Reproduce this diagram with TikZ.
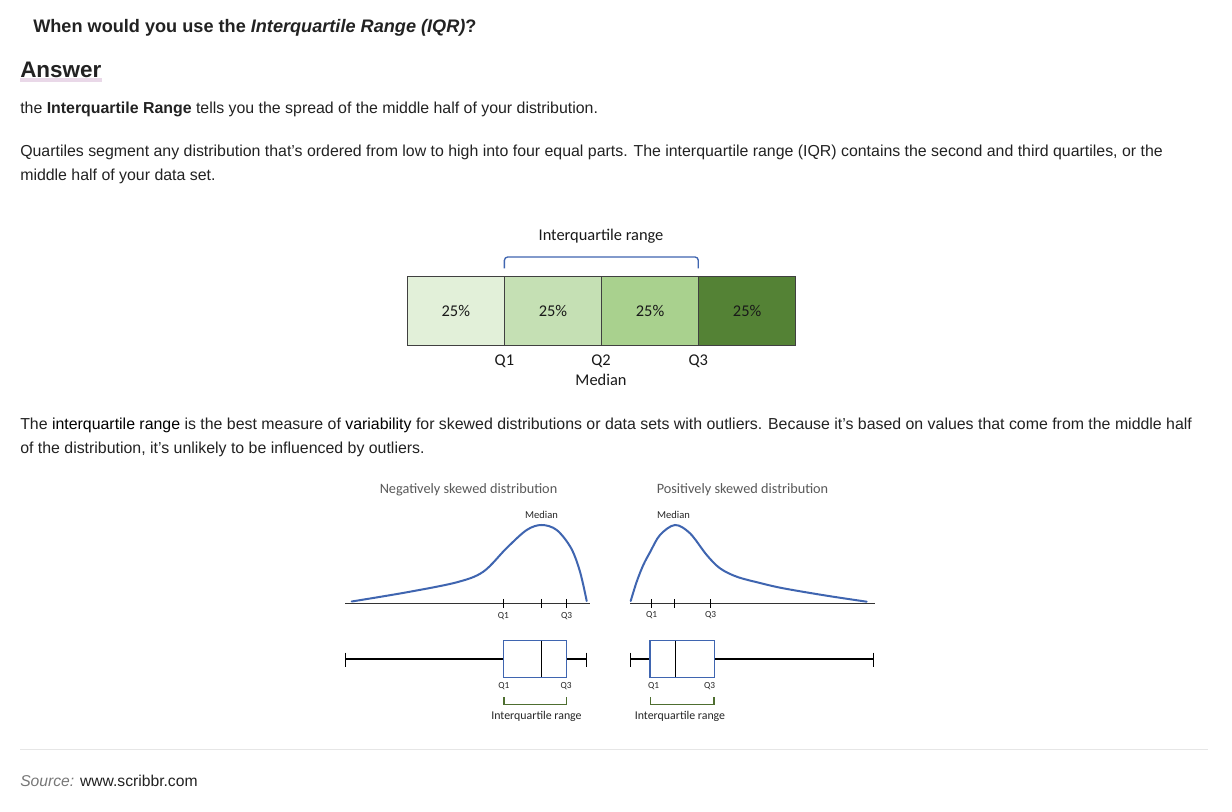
\documentclass[tikz,border=0pt]{standalone}
\usepackage{fontspec}
\setmainfont{Liberation Sans}
\newfontfamily\calib{Carlito}
\definecolor{txt}{HTML}{222222}
\definecolor{c1}{HTML}{E2F0D9}
\definecolor{c2}{HTML}{C5E0B4}
\definecolor{c3}{HTML}{A9D18E}
\definecolor{c4}{HTML}{548235}
\definecolor{bord}{HTML}{404040}
\definecolor{blu}{HTML}{3F65B0}
\definecolor{grn}{HTML}{4E6E30}
\definecolor{gry}{HTML}{595959}
\definecolor{rule}{HTML}{E6E6E6}
\definecolor{pinkline}{HTML}{E9D8E8}
\definecolor{srcgray}{HTML}{777777}
\begin{document}
\begin{tikzpicture}[x=0.75pt,y=-0.75pt,
  txtline/.style={anchor=base west,inner sep=0pt,text=txt,font=\fontsize{11.92pt}{14pt}\selectfont},
  cell/.style={draw=bord,line width=0.8pt,minimum width=72.8pt,minimum height=51.4pt,inner sep=0pt,
    font=\calib\fontsize{12.3pt}{14pt}\selectfont,text=black!90},
  blab/.style={inner sep=0pt,font=\calib\fontsize{12.3pt}{14pt}\selectfont,text=black!90},
  dtitle/.style={inner sep=0pt,font=\calib\fontsize{10.7pt}{12pt}\selectfont,text=gry},
  smed/.style={inner sep=0pt,font=\calib\fontsize{7.9pt}{9pt}\selectfont,text=black!85},
  sq/.style={inner sep=0pt,font=\calib\fontsize{7pt}{8pt}\selectfont,text=black!85},
  siqr/.style={inner sep=0pt,font=\calib\fontsize{8.9pt}{10pt}\selectfont,text=black!85},
  curve/.style={blu,line width=1.5pt,line cap=round},
  boxp/.style={draw=blu,line width=1.1pt,minimum height=27.45pt,inner sep=0pt},
  whisk/.style={black,line width=1.1pt},
  tick/.style={black,line width=1.1pt},
  axis/.style={black!80,line width=0.75pt},
]
\useasboundingbox[fill=white] (0,0) rectangle (1232,812);

% ---------- text ----------
\node[anchor=base west,inner sep=0pt,text=txt,font=\bfseries\fontsize{13.6pt}{16pt}\selectfont] (title) at (33,32.5)
  {When would you use the \textit{Interquartile Range (IQR)}?};
\fill[pinkline] (20,78.5) rectangle (102,82.5);
\node[anchor=base west,inner sep=0pt,text=txt,font=\bfseries\fontsize{16.85pt}{19pt}\selectfont] (answer) at (20,78) {Answer};
\node[txtline] (l1) at (20,114) {the \textbf{Interquartile Range} tells you the spread of the middle half of your distribution.};
\node[txtline] (l2) at (20,157) {Quartiles segment any distribution that’s ordered from low to high into four equal parts. The interquartile range (IQR) contains the second and third quartiles, or the};
\node[txtline] (l3) at (20,181) {middle half of your data set.};
\node[txtline] (l4) at (20,429.5) {The \textcolor{black}{interquartile range} is the best measure of \textcolor{black}{variability} for skewed distributions or data sets with outliers. Because it’s based on values that come from the middle half};
\node[txtline] (l5) at (20,453.5) {of the distribution, it’s unlikely to be influenced by outliers.};
\draw[rule,line width=0.75pt] (20,749) -- (1208,749);
\node[txtline,font=\fontsize{11.75pt}{14pt}\selectfont] (src) at (20,786) {\textcolor{srcgray}{\itshape Source:} www.scribbr.com};

% ---------- quartile bar ----------
\node[cell,fill=c1] (p1) at (455.85,310.85) {25\%};
\node[cell,fill=c2] (p2) at (552.95,310.85) {25\%};
\node[cell,fill=c3] (p3) at (650.05,310.85) {25\%};
\node[cell,fill=c4] (p4) at (747.15,310.85) {25\%};
\draw[blu,line width=1pt,rounded corners=2.5pt] (504.4,268.5) -- (504.4,257) -- (698.3,257) -- (698.3,268.5);
\node[blab] (iqrtop) at (601,236.5) {Interquartile range};
\node[blab] (q1) at (504.4,361.5) {Q1};
\node[blab] (q2) at (601,361.5) {Q2};
\node[blab] (med) at (601,380) {Median};
\node[blab] (q3) at (698.3,361.5) {Q3};

% ---------- negatively skewed ----------
\node[dtitle] (ntitle) at (468.5,490) {Negatively skewed distribution};
\node[smed] (nmed) at (541.5,515) {Median};
\draw[axis] (345,603.5) -- (590,603.5);
\draw[curve] plot[smooth,tension=0.55] coordinates {(351.7,601.5) (406.7,592.3) (456.7,582.3) (483.3,571.7) (506.7,548) (526.7,530) (541.7,525) (556.7,530) (571,548) (580,571.7) (586.7,601)};
\foreach \x in {503.3,541.7,566.7} \draw[tick] (\x,599) -- (\x,607.7);
\node[sq] (nq1) at (503.3,616) {Q1};
\node[sq] (nq3) at (566.7,616) {Q3};
\node[boxp,minimum width=47.55pt] (nbox) at (535,659) {};
\draw[whisk] (541.3,640.7) -- (541.3,677.3);
\coordinate (nlo) at (345.5,659);
\coordinate (nhi) at (586.7,659);
\draw[whisk] (nlo) -- (nbox.west);
\draw[whisk] (nbox.east) -- (nhi);
\draw[whisk] (345.5,652.5) -- (345.5,666.5);
\draw[whisk] (586.7,652.5) -- (586.7,666.5);
\node[sq] (nbq1) at (503.8,686.5) {Q1};
\node[sq] (nbq3) at (566.2,686.5) {Q3};
\draw[grn,line width=1.1pt] (503.8,697) -- (503.8,704.3) -- (566.7,704.3) -- (566.7,697);
\node[siqr] (niqr) at (536.5,716.5) {Interquartile range};

% ---------- positively skewed ----------
\node[dtitle] (ptitle) at (742.5,490) {Positively skewed distribution};
\node[smed] (pmed) at (673.5,515) {Median};
\draw[axis] (630,604) -- (875,604);
\draw[curve] plot[smooth,tension=0.55] coordinates {(630.7,601) (636.7,581.7) (643.3,565) (650,552.3) (660,535) (675,525) (690,533.3) (706.7,555) (720,568.3) (736.7,576.7) (760,583) (783.3,588.3) (826.7,595.7) (866.7,601.7)};
\foreach \x in {651.7,674.3,710.7} \draw[tick] (\x,599.5) -- (\x,608.2);
\node[sq] (pq1) at (651.7,615.5) {Q1};
\node[sq] (pq3) at (710.7,615.5) {Q3};
\node[boxp,minimum width=48.2pt] (pbox) at (682.15,659) {};
\draw[whisk] (675.7,640.7) -- (675.7,677.3);
\coordinate (plo) at (630.7,659);
\coordinate (phi) at (873.3,659);
\draw[whisk] (plo) -- (pbox.west);
\draw[whisk] (pbox.east) -- (phi);
\draw[whisk] (630.7,652.5) -- (630.7,666.5);
\draw[whisk] (873.3,652.5) -- (873.3,666.5);
\node[sq] (pbq1) at (653.5,686.5) {Q1};
\node[sq] (pbq3) at (709.5,686.5) {Q3};
\draw[grn,line width=1.1pt] (650.3,697) -- (650.3,704.3) -- (714,704.3) -- (714,697);
\node[siqr] (piqr) at (680,716.5) {Interquartile range};
\end{tikzpicture}
\end{document}
